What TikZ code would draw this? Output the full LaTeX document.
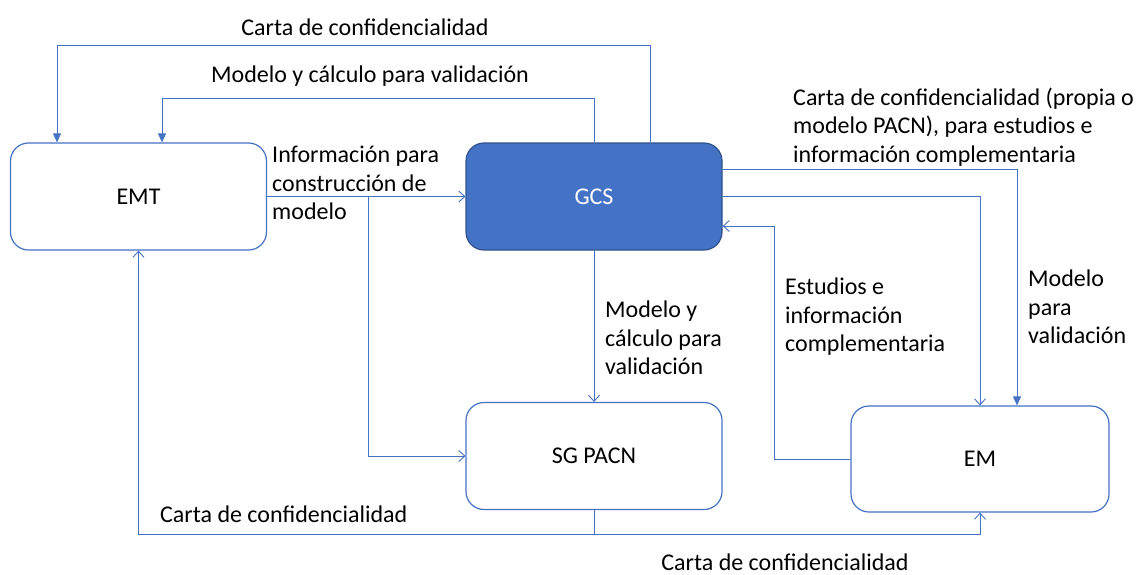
\documentclass[tikz,border=0pt]{standalone}
\usepackage{fontspec}
\setmainfont{Carlito}
\usepackage{tikz}
\usetikzlibrary{
    arrows.meta,
    positioning
}
\definecolor{officeblue}{HTML}{4472C4}
\definecolor{officedark}{HTML}{2F528F}

\begin{document}
\begin{tikzpicture}[x=1pt,y=-1pt,
    every node/.style={font=\fontsize{24}{28.5}\selectfont},
    box/.style={draw=officeblue, line width=1.2pt, rounded corners=18pt,
        minimum width=256pt, minimum height=107pt, inner sep=0pt},
    boxfill/.style={box, draw=officedark, fill=officeblue, text=white},
    flow/.style={officeblue, line width=0.9pt},
    opn/.style={flow, -{Straight Barb[length=6pt,width=11pt]}},
    tri/.style={flow, -{Triangle[length=9pt,width=8pt]}},
    lbl/.style={inner sep=0pt, align=left, anchor=west}
]

\useasboundingbox (0,0) rectangle (1141,574);

% Boxes
\node[box] (emt) at (138.5,196.5) {EMT};
\node[boxfill] (gcs) at (594,196.5) {GCS};
\node[box] (sg) at (594,456) {SG PACN};
\node[box, minimum width=258pt, minimum height=106pt] (em) at (980,459) {EM};

% GCS -> EMT
\draw[tri] ([xshift=56]gcs.north) -- ++(0,-97) -| ([xshift=-81.5]emt.north);
\draw[tri] (gcs.north) -- ++(0,-44) -| ([xshift=23.5]emt.north);
\node[inner sep=0pt] (l1) at (365,27) {Carta de confidencialidad};
\node[inner sep=0pt] (l2) at (370,76) {Modelo y cálculo para validación};

% EMT -> GCS, SG PACN
\draw[opn] (emt.east) -- (gcs.west);
\draw[opn] ([xshift=101]emt.east) |- (sg.west);
\node[lbl] (l3) at (272,183) {Información para\\construcción de\\modelo};

% GCS -> SG PACN
\draw[opn] (gcs.south) -- (sg.north);
\node[lbl] (l4) at (605,338) {Modelo y\\cálculo para\\validación};

% GCS <-> EM
\draw[tri] ([yshift=27.5]gcs.east) -| ([xshift=37]em.north);
\draw[opn] (gcs.east) -| (em.north);
\draw[opn] (em.west) -- ++(-76,0) |- ([yshift=-29.5]gcs.east);
\node[lbl] (l5) at (793,127) {Carta de confidencialidad (propia o\\modelo PACN), para estudios e\\información complementaria};
\node[lbl] (l6) at (1028,307) {Modelo\\para\\validación};
\node[lbl] (l7) at (785,317) {Estudios e\\información\\complementaria};

% SG PACN -> EMT, EM
\draw[opn] (sg.south) -- ++(0,24) -| (emt.south);
\draw[opn] (sg.south) -- ++(0,24) -| (em.south);
\node[lbl] (l8) at (160,514) {Carta de confidencialidad};
\node[inner sep=0pt] (l9) at (785,562) {Carta de confidencialidad};

\end{tikzpicture}
\end{document}
